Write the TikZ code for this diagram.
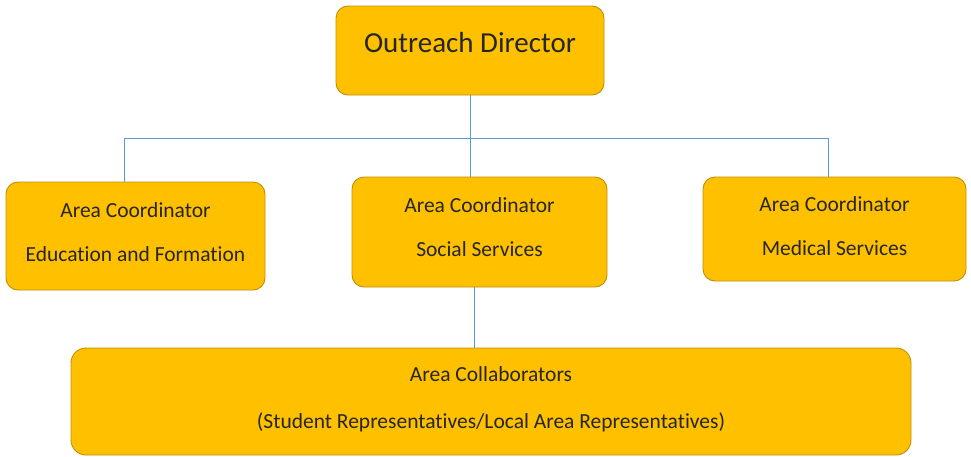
\documentclass[tikz,border=0pt]{standalone}
\usepackage{fontspec}
\setmainfont{Carlito}[Ligatures=NoCommon]
\definecolor{boxfill}{HTML}{FFC000}
\definecolor{boxedge}{HTML}{BF9000}
\definecolor{linkblue}{HTML}{5B9BD5}
\definecolor{txt}{HTML}{262626}
\newcommand{\lowpad}[1]{\rule[-#1]{0pt}{0pt}}
\begin{document}
\begin{tikzpicture}[x=1pt,y=-1pt,
  orgbox/.style={draw=boxedge, fill=boxfill, line width=0.9pt, rounded corners=12pt,
    text=txt, align=center, font=\fontsize{21.5}{26}\selectfont, inner sep=0pt},
  link/.style={draw=linkblue, line width=0.8pt}]
\useasboundingbox (0,0) rectangle (971,456);
\node[orgbox, minimum width=268pt, minimum height=89pt, font=\fontsize{29}{34}\selectfont] (dir) at (470,50.5) {Outreach Director\lowpad{16pt}};
\node[orgbox, minimum width=259pt, minimum height=108pt] (edu) at (135.5,236) {Area Coordinator\\[18pt]Education and Formation\lowpad{8pt}};
\node[orgbox, minimum width=255pt, minimum height=110pt] (soc) at (479.5,232) {Area Coordinator\\[18pt]Social Services\lowpad{10pt}};
\node[orgbox, minimum width=263pt, minimum height=104pt] (med) at (834.5,229) {Area Coordinator\\[18pt]Medical Services\lowpad{5pt}};
\node[orgbox, minimum width=840pt, minimum height=107pt, rounded corners=15pt] (col) at (491,401.5) {Area Collaborators\\[21pt](Student Representatives/Local Area Representatives)\lowpad{8pt}};
\coordinate (bus) at (470,138.5);
\draw[link] (dir.south) -- (bus);
\draw[link] (bus) -| (edu.north -| 124,0);
\draw[link] (bus) -| (med.north -| 828,0);
\draw[link] (bus) -- (soc.north -| bus);
\draw[link] (soc.south -| 474,0) -- (col.north -| 474,0);
\end{tikzpicture}
\end{document}
